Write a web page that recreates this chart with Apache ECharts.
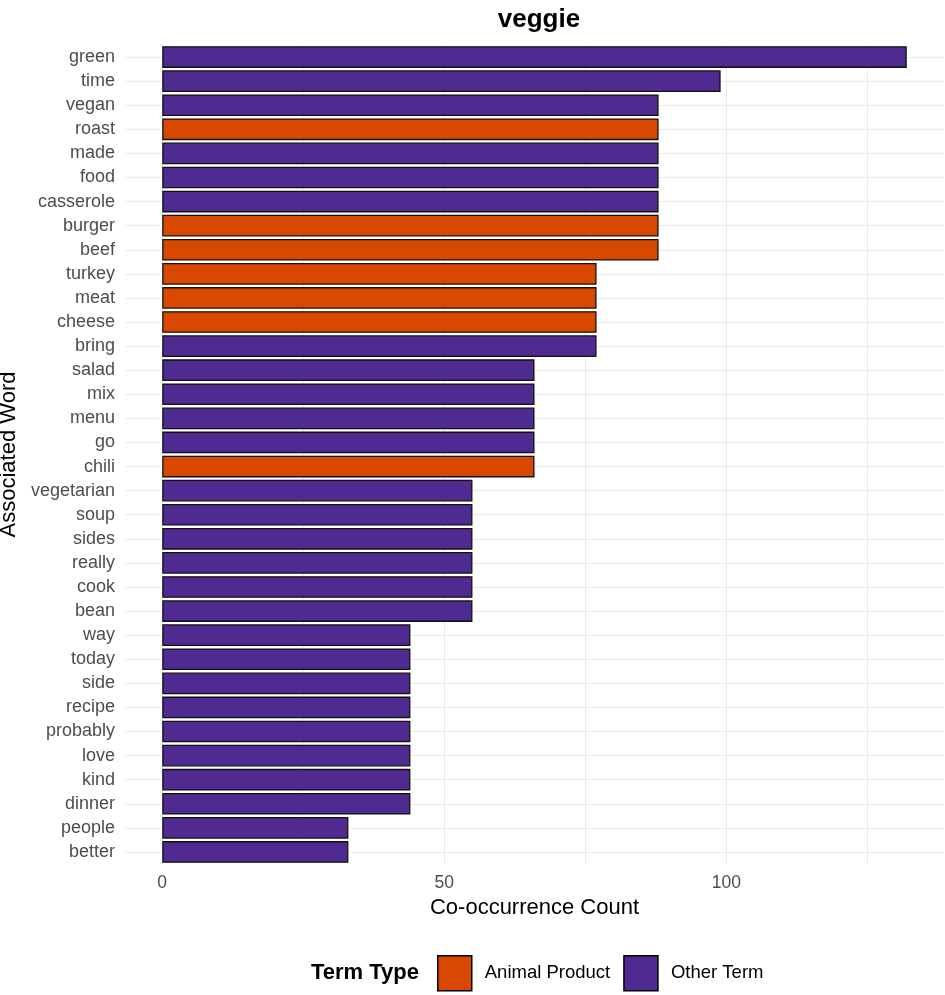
<!DOCTYPE html>
<html><head><meta charset="utf-8">
<script src="https://cdn.jsdelivr.net/npm/echarts@6/dist/echarts.min.js"></script>
<style>html,body{margin:0;padding:0;background:#fff}#c{width:945px;height:995px}</style>
</head><body><div id="c"></div>
<script>
const words = ["green","time","vegan","roast","made","food","casserole","burger","beef","turkey","meat","cheese","bring","salad","mix","menu","go","chili","vegetarian","soup","sides","really","cook","bean","way","today","side","recipe","probably","love","kind","dinner","people","better"];
const counts = [132,99,88,88,88,88,88,88,88,77,77,77,77,66,66,66,66,66,55,55,55,55,55,55,44,44,44,44,44,44,44,44,33,33];
const animalTerms = ["roast","burger","beef","turkey","meat","cheese","chili"];
const xLabelTicks = [0,50,100];
const xGridTicks = [0,25,50,75,100,125];
const typeNames = ["Animal Product","Other Term"];
const typeColors = ["#D94801","#4F2A91"];

const animalData = words.map((w,i)=> animalTerms.includes(w) ? counts[i] : '-');
const otherData = words.map((w,i)=> animalTerms.includes(w) ? '-' : counts[i]);

const font = "'Liberation Sans', Arial, sans-serif";
const chart = echarts.init(document.getElementById('c'));
chart.setOption({
  backgroundColor:'#fff',
  animation:false,
  title:{text:'veggie',left:534,top:2,textAlign:'center',textStyle:{fontFamily:font,fontSize:26,fontWeight:'bold',color:'#000'}},
  grid:{left:125,right:1,top:45,bottom:131,containLabel:false,outerBoundsMode:'none'},
  xAxis:{type:'value',min:-6.6,max:138.6,
    name:'Co-occurrence Count',nameLocation:'middle',nameGap:31,
    nameTextStyle:{fontFamily:font,fontSize:22,color:'#000'},
    axisLine:{show:false},
    axisTick:{show:false,customValues:xGridTicks},
    axisLabel:{customValues:xLabelTicks,fontFamily:font,fontSize:17.5,color:'#4d4d4d',margin:10},
    splitLine:{show:true,lineStyle:{color:'#ebebeb',width:1}}
  },
  yAxis:{type:'category',data:words,inverse:true,
    name:'Associated Word',nameLocation:'middle',nameGap:102,nameRotate:90,
    nameTextStyle:{fontFamily:font,fontSize:22,color:'#000'},
    axisLine:{show:false},
    axisTick:{show:false,alignWithLabel:true},
    axisLabel:{fontFamily:font,fontSize:18,color:'#4d4d4d',margin:10,interval:0},
    splitLine:{show:true,alignWithLabel:true,interval:0,lineStyle:{color:'#ebebeb',width:1}}
  },
  legend:{left:432,top:950,itemWidth:34,itemHeight:35,itemGap:13,icon:'rect',
    data:typeNames,
    textStyle:{fontFamily:font,fontSize:18.5,color:'#000',padding:[0,0,0,8]},
    itemStyle:{borderColor:'#000',borderWidth:1.5}
  },
  graphic:[{type:'text',left:311,top:962,style:{text:'Term Type',fontFamily:font,fontSize:22,fontWeight:'bold',fill:'#000'}}],
  series:[
    {name:typeNames[0],type:'bar',stack:'a',data:animalData,barCategoryGap:'10%',
     itemStyle:{color:typeColors[0],borderColor:'#111',borderWidth:1.3}},
    {name:typeNames[1],type:'bar',stack:'a',data:otherData,barCategoryGap:'10%',
     itemStyle:{color:typeColors[1],borderColor:'#111',borderWidth:1.3}}
  ]
});
</script></body></html>
